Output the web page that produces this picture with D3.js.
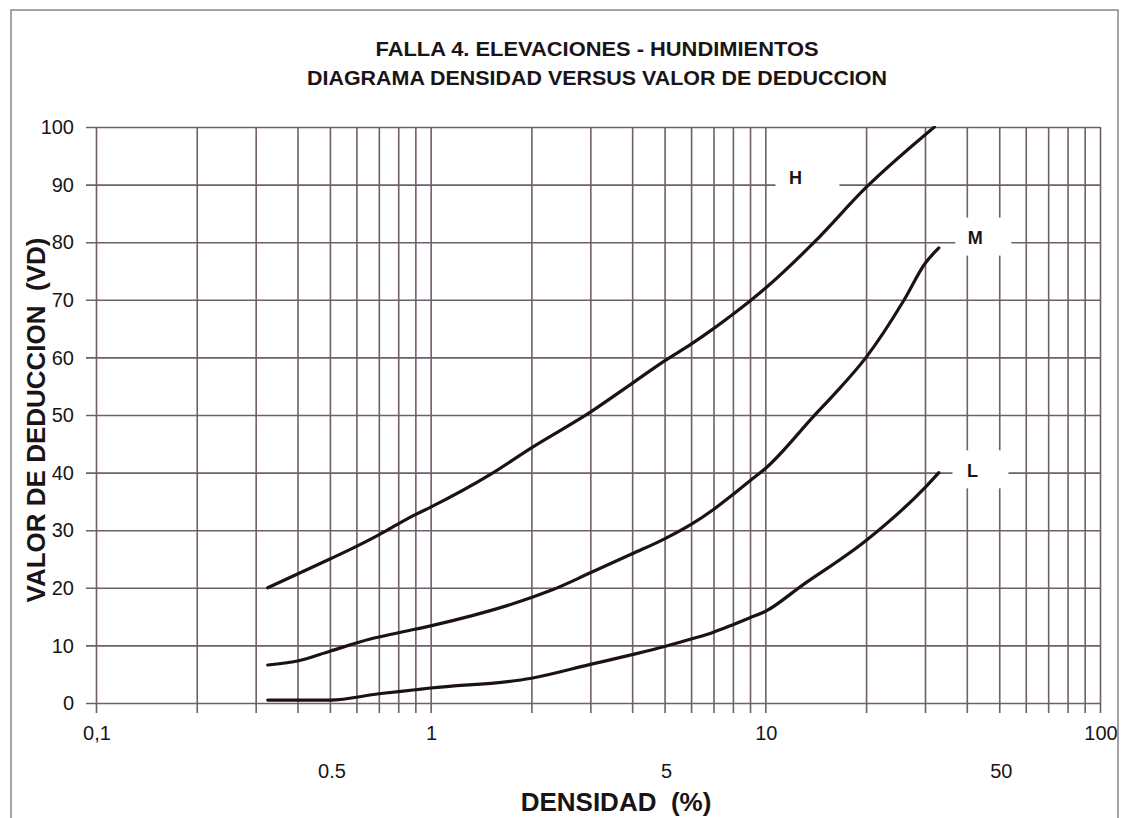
<!DOCTYPE html>
<html lang="es">
<head>
<meta charset="UTF-8">
<title>Falla 4 - densidad vs valor de deduccion</title>
<style>
	body { margin: 0; background: #fff; }
	text { font-family: "Liberation Sans", Arial, sans-serif; fill: #1a1416; }
</style>
</head>
<body>
<div id="chart"></div>
<script src="https://d3js.org/d3.v7.min.js"></script>
<script>
// density (%) and deduct value
var hDens = [0.326, 0.4, 0.5, 0.6, 0.7, 0.8, 0.9, 1, 1.5, 2, 3, 4, 5, 6, 7, 8, 9, 10, 14, 20, 32];
var hVD   = [20, 22.4, 25, 27.2, 29.2, 31.1, 32.7, 34, 39.6, 44.3, 50.5, 55.5, 59.4, 62.3, 65, 67.5, 69.8, 72, 80, 89.5, 100];

var mDens = [0.326, 0.4, 0.5, 0.66, 0.8, 1, 2, 2.3, 3, 4, 5, 6, 7, 8, 9, 10, 14, 16, 20, 26, 30, 33];
var mVD   = [6.6, 7.3, 9, 11.1, 12.2, 13.4, 18.3, 19.6, 22.6, 25.9, 28.5, 31, 33.6, 36.2, 38.6, 40.7, 49.9, 53.5, 60, 70, 76.3, 79];

var lDens = [0.326, 0.5, 0.7, 0.9, 1, 2, 3, 4, 5, 6, 7, 8, 9, 10, 12.8, 20, 30, 33];
var lVD   = [0.5, 0.5, 1.6, 2.3, 2.6, 4.3, 6.7, 8.4, 9.8, 11.1, 12.3, 13.6, 14.8, 15.9, 20.3, 28.2, 37.4, 40];

var seriesNames = ['H', 'M', 'L'];
var labelAt = [[12.3, 91.3], [42.4, 80.8], [41.6, 40.4]]; // where the curve letters sit (density, VD)

var xMain = [0.1, 1, 10, 100];
var xMainText = ['0,1', '1', '10', '100'];
var xHalf = [0.5, 5, 50];
var xHalfText = ['0.5', '5', '50'];
var yTicks = [0, 10, 20, 30, 40, 50, 60, 70, 80, 90, 100];

var W = 1123, H = 818;
var margin = { top: 127, left: 96, right: 23, bottom: 115 };
var width = W - margin.left - margin.right;   // 1004
var height = H - margin.top - margin.bottom;  // 576

var x = d3.scaleLog().domain([0.1, 100]).range([0, width]);
var y = d3.scaleLinear().domain([0, 100]).range([height, 0]);

var svg = d3.select('#chart').append('svg')
	.attr('width', W).attr('height', H);

// page frame
svg.append('rect')
	.attr('x', 11).attr('y', 10).attr('width', 1107).attr('height', 830)
	.attr('fill', 'none').attr('stroke', '#8a8488').attr('stroke-width', 1.5);

var g = svg.append('g').attr('transform', `translate(${margin.left},${margin.top})`);

var gridColor = '#6f5e6c';
var logTicks = [];
[0.1, 1, 10].forEach(function (dec) {
	for (var k = 1; k <= 9; k++) logTicks.push(+(dec * k).toPrecision(3));
});
logTicks.push(100);

// vertical grid, poking out under the axis as ticks
g.append('g')
	.attr('class', 'grid x')
	.attr('transform', `translate(0,${height + 10})`)
	.call(d3.axisBottom(x).tickValues(logTicks).tickSize(-(height + 10)).tickFormat(''))
	.call(s => s.select('.domain').remove())
	.call(s => s.selectAll('line').attr('stroke', gridColor).attr('stroke-width', 1.6));

// horizontal grid, poking out left as ticks
g.append('g')
	.attr('class', 'grid y')
	.attr('transform', 'translate(-10,0)')
	.call(d3.axisLeft(y).tickValues(yTicks).tickSize(-(width + 10)).tickFormat(''))
	.call(s => s.select('.domain').remove())
	.call(s => s.selectAll('line').attr('stroke', gridColor).attr('stroke-width', 1.6));

// y tick labels
g.selectAll('.ylab').data(yTicks).join('text')
	.attr('class', 'ylab')
	.attr('x', -22)
	.attr('y', d => y(d))
	.attr('dy', '0.36em')
	.attr('text-anchor', 'end')
	.style('font-size', '20px')
	.text(d => d);

// x tick labels, two rows
g.selectAll('.xlab').data(xMain).join('text')
	.attr('class', 'xlab')
	.attr('x', d => x(d) + 1)
	.attr('y', height + 37)
	.attr('text-anchor', 'middle')
	.style('font-size', '20px')
	.text((d, i) => xMainText[i]);

g.selectAll('.xlab2').data(xHalf).join('text')
	.attr('class', 'xlab2')
	.attr('x', d => x(d) + 2)
	.attr('y', height + 75)
	.attr('text-anchor', 'middle')
	.style('font-size', '20px')
	.text((d, i) => xHalfText[i]);

// curves
var line = d3.line()
	.x(d => x(d[0]))
	.y(d => y(d[1]))
	.curve(d3.curveMonotoneX);

var curves = [d3.zip(hDens, hVD), d3.zip(mDens, mVD), d3.zip(lDens, lVD)];

g.append('clipPath').attr('id', 'plot-clip')
	.append('rect').attr('x', 0).attr('y', -1).attr('width', width).attr('height', height + 2);

g.append('g').attr('clip-path', 'url(#plot-clip)')
	.selectAll('path').data(curves).join('path')
	.attr('d', line)
	.attr('fill', 'none')
	.attr('stroke', '#1c1216')
	.attr('stroke-width', 3.2)
	.attr('stroke-linecap', 'round');

// curve letters on white patches
var lab = g.selectAll('.curve-lab').data(seriesNames).join('g')
	.attr('class', 'curve-lab')
	.attr('transform', (d, i) => `translate(${x(labelAt[i][0])},${y(labelAt[i][1])})`);
lab.append('rect')
	.attr('x', -20).attr('y', -20)
	.attr('width', (d, i) => i === 0 ? 64 : 56)
	.attr('height', 38)
	.attr('fill', '#fff');
lab.append('text')
	.attr('text-anchor', 'middle')
	.attr('dy', '0.36em')
	.style('font-size', '18px')
	.style('font-weight', 'bold')
	.text(d => d);

// titles
svg.append('text')
	.attr('x', 597).attr('y', 56)
	.attr('text-anchor', 'middle')
	.attr('textLength', 443).attr('lengthAdjust', 'spacingAndGlyphs')
	.style('font-size', '21px').style('font-weight', 'bold')
	.text('FALLA 4. ELEVACIONES - HUNDIMIENTOS');

svg.append('text')
	.attr('x', 597).attr('y', 85)
	.attr('text-anchor', 'middle')
	.attr('textLength', 580).attr('lengthAdjust', 'spacingAndGlyphs')
	.style('font-size', '21px').style('font-weight', 'bold')
	.text('DIAGRAMA DENSIDAD VERSUS VALOR DE DEDUCCION');

svg.append('text')
	.attr('x', 616).attr('y', 811)
	.attr('text-anchor', 'middle')
	.style('font-size', '26px').style('font-weight', 'bold')
	.style('white-space', 'pre')
	.text('DENSIDAD  (%)');

svg.append('text')
	.attr('transform', 'translate(45,420) rotate(-90)')
	.attr('text-anchor', 'middle')
	.style('font-size', '26px').style('font-weight', 'bold')
	.style('white-space', 'pre')
	.text('VALOR DE DEDUCCION  (VD)');
</script>
</body>
</html>
